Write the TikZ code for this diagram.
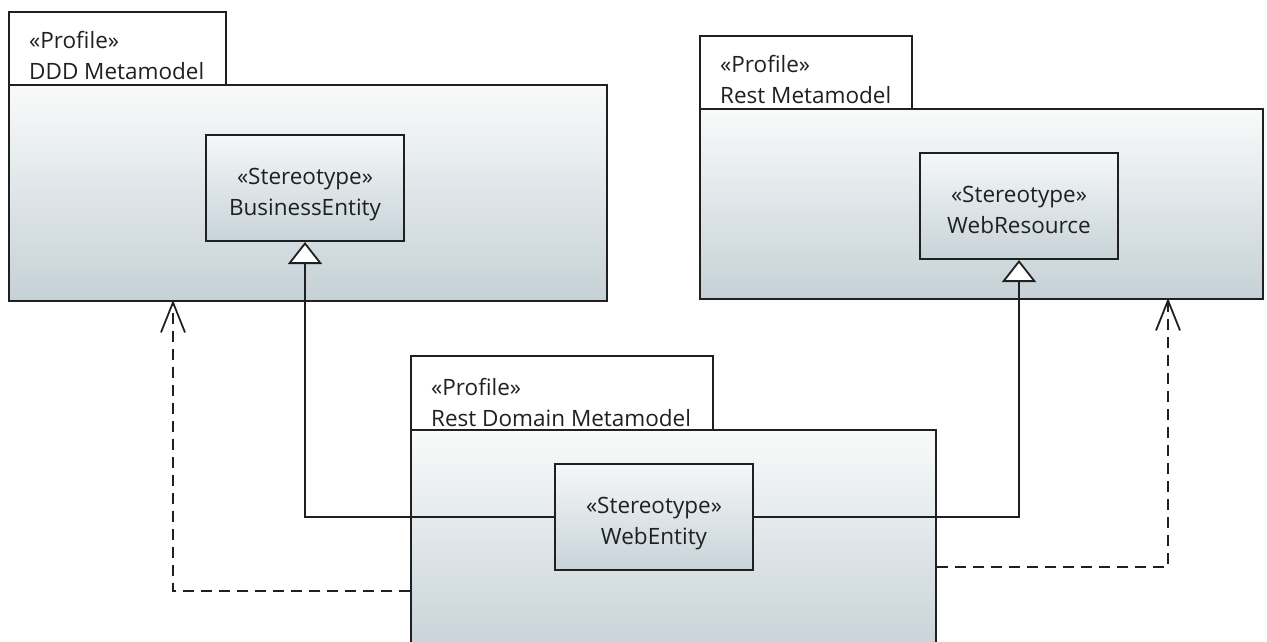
\documentclass[tikz,border=0pt]{standalone}
\usepackage{fontspec}
\setmainfont{Open Sans}
\usetikzlibrary{arrows.meta,positioning}
\definecolor{umlline}{RGB}{32,32,32}
\definecolor{pkgtop}{RGB}{249,250,250}
\definecolor{pkgbot}{RGB}{197,209,215}
\definecolor{boxtop}{RGB}{245,247,248}
\definecolor{boxbot}{RGB}{199,211,217}

\begin{document}
\begin{tikzpicture}[x=1pt, y=-1pt,
  pkgbody/.style={rectangle, draw=umlline, line width=2pt, top color=pkgtop,
                  bottom color=pkgbot, anchor=north west, inner sep=0pt},
  pkgtab/.style={rectangle, draw=umlline, line width=2pt, fill=white,
                 anchor=north west, inner sep=0pt},
  pkglbl/.style={anchor=north west, inner sep=0pt, align=left, text=umlline,
                 font=\fontsize{22.5}{31}\selectfont},
  stereo/.style={rectangle, draw=umlline, line width=2pt, top color=boxtop,
                 bottom color=boxbot, anchor=north west, inner sep=0pt,
                 minimum width=198pt, minimum height=106pt, align=center,
                 text height=54pt, text depth=0pt,
                 text=umlline, font=\fontsize{22.5}{31}\selectfont},
  gen/.style={draw=umlline, line width=1.8pt,
              -{Triangle[fill=white, length=22pt, width=34pt]}},
  dep/.style={draw=umlline, line width=1.8pt, dash pattern=on 11pt off 7pt,
              -{Straight Barb[length=30pt, width=24pt]}},
]
\clip (0,0) rectangle (1267,641);

% DDD profile
\node[pkgbody, minimum width=598pt, minimum height=216pt] (dddbody) at (8,84) {};
\node[pkgtab, minimum width=217pt, minimum height=73pt] (dddtab) at (8,11) {};
\node[pkglbl] (dddlbl) at ([xshift=21pt, yshift=-20pt]dddtab.north west)
  {«Profile»\\DDD Metamodel};
\node[stereo] (bent) at (205,134) {«Stereotype»\\BusinessEntity};

% Rest profile
\node[pkgbody, minimum width=563pt, minimum height=190pt] (restbody) at (699,108) {};
\node[pkgtab, minimum width=212pt, minimum height=73pt] (resttab) at (699,35) {};
\node[pkglbl] (restlbl) at ([xshift=21pt, yshift=-20pt]resttab.north west)
  {«Profile»\\Rest Metamodel};
\node[stereo] (wres) at (919,152) {«Stereotype»\\WebResource};

% Rest domain profile
\node[pkgbody, minimum width=525pt, minimum height=230pt] (rdmbody) at (410,429) {};
\node[pkgtab, minimum width=302pt, minimum height=74pt] (rdmtab) at (410,355) {};
\node[pkglbl] (rdmlbl) at ([xshift=21pt, yshift=-23pt]rdmtab.north west)
  {«Profile»\\Rest Domain Metamodel};
\node[stereo] (went) at (554,463) {«Stereotype»\\WebEntity};

% generalizations
\draw[gen] (went.west) -| (bent.south);
\draw[gen] (went.east) -| (wres.south);

% profile dependencies
\coordinate (dddfoot) at (173,300);
\coordinate (restfoot) at (1168,298);
\draw[dep] (rdmbody.west |- 0,591) -| (dddfoot);
\draw[dep] (rdmbody.east |- 0,567) -| (restfoot);

\end{tikzpicture}
\end{document}
